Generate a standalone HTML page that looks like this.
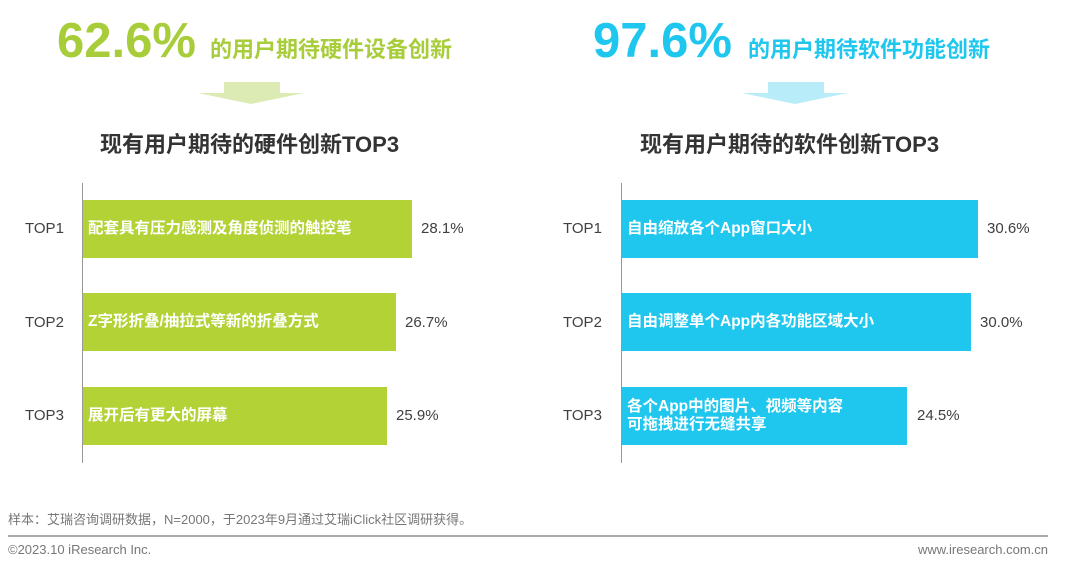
<!DOCTYPE html><html><head><meta charset="utf-8"><style>
body{margin:0;width:1080px;height:567px;background:#fff;position:relative;overflow:hidden;font-family:"Liberation Sans","Noto Sans CJK SC",sans-serif}
div{position:absolute;white-space:nowrap}
.big{font-size:49px;font-weight:bold;line-height:50px}
.sub{font-size:22px;font-weight:bold;line-height:24px}
.ttl{font-size:22px;font-weight:bold;color:#333;line-height:28px}
.lab{font-size:15px;color:#404040;line-height:20px}
.val{font-size:15px;color:#404040;line-height:20px}
.bar{height:58px;color:#fff;font-size:15.5px;font-weight:bold;line-height:18px;display:flex;align-items:center;padding-left:5px;box-sizing:border-box}
.g{background:#b2d235}.c{background:#1fc7ef}
.ax{width:1px;background:#999;top:183px;height:280px}
</style></head><body>
<div class="big" style="left:57px;top:16px;color:#a8cd3a">62.6%</div>
<div class="sub" style="left:210px;top:38px;color:#a8cd3a">的用户期待硬件设备创新</div>
<div style="left:224px;top:82px;width:56px;height:12px;background:#dcebb4"></div>
<div style="left:198px;top:93px;width:0;height:0;border-left:53px solid transparent;border-right:53px solid transparent;border-top:11px solid #dcebb4"></div>
<div class="ttl" style="left:100px;top:131px">现有用户期待的硬件创新TOP3</div>
<div class="ax" style="left:82px"></div>
<div class="lab" style="left:25px;top:219px">TOP1</div>
<div class="lab" style="left:25px;top:313px">TOP2</div>
<div class="lab" style="left:25px;top:406px">TOP3</div>
<div class="bar g" style="left:83px;top:200px;width:329px">配套具有压力感测及角度侦测的触控笔</div>
<div class="bar g" style="left:83px;top:293px;width:313px">Z字形折叠/抽拉式等新的折叠方式</div>
<div class="bar g" style="left:83px;top:387px;width:304px">展开后有更大的屏幕</div>
<div class="val" style="left:421px;top:219px">28.1%</div>
<div class="val" style="left:405px;top:313px">26.7%</div>
<div class="val" style="left:396px;top:406px">25.9%</div>

<div class="big" style="left:593px;top:16px;color:#1fc7ef">97.6%</div>
<div class="sub" style="left:748px;top:38px;color:#1fc7ef">的用户期待软件功能创新</div>
<div style="left:768px;top:82px;width:56px;height:12px;background:#b8ecf8"></div>
<div style="left:742px;top:93px;width:0;height:0;border-left:53px solid transparent;border-right:53px solid transparent;border-top:11px solid #b8ecf8"></div>
<div class="ttl" style="left:640px;top:131px">现有用户期待的软件创新TOP3</div>
<div class="ax" style="left:621px"></div>
<div class="lab" style="left:563px;top:219px">TOP1</div>
<div class="lab" style="left:563px;top:313px">TOP2</div>
<div class="lab" style="left:563px;top:406px">TOP3</div>
<div class="bar c" style="left:622px;top:200px;width:356px">自由缩放各个App窗口大小</div>
<div class="bar c" style="left:622px;top:293px;width:349px">自由调整单个App内各功能区域大小</div>
<div class="bar c" style="left:622px;top:387px;width:285px">各个App中的图片、视频等内容<br>可拖拽进行无缝共享</div>
<div class="val" style="left:987px;top:219px">30.6%</div>
<div class="val" style="left:980px;top:313px">30.0%</div>
<div class="val" style="left:917px;top:406px">24.5%</div>

<div style="left:8px;top:509px;font-size:13px;color:#777">样本：艾瑞咨询调研数据，N=2000，于2023年9月通过艾瑞iClick社区调研获得。</div>
<div style="left:8px;top:535px;width:1040px;height:2px;background:#aaa"></div>
<div style="left:8px;top:542px;font-size:13px;color:#777">©2023.10 iResearch Inc.</div>
<div style="right:32px;top:542px;font-size:13px;color:#777">www.iresearch.com.cn</div>
</body></html>
